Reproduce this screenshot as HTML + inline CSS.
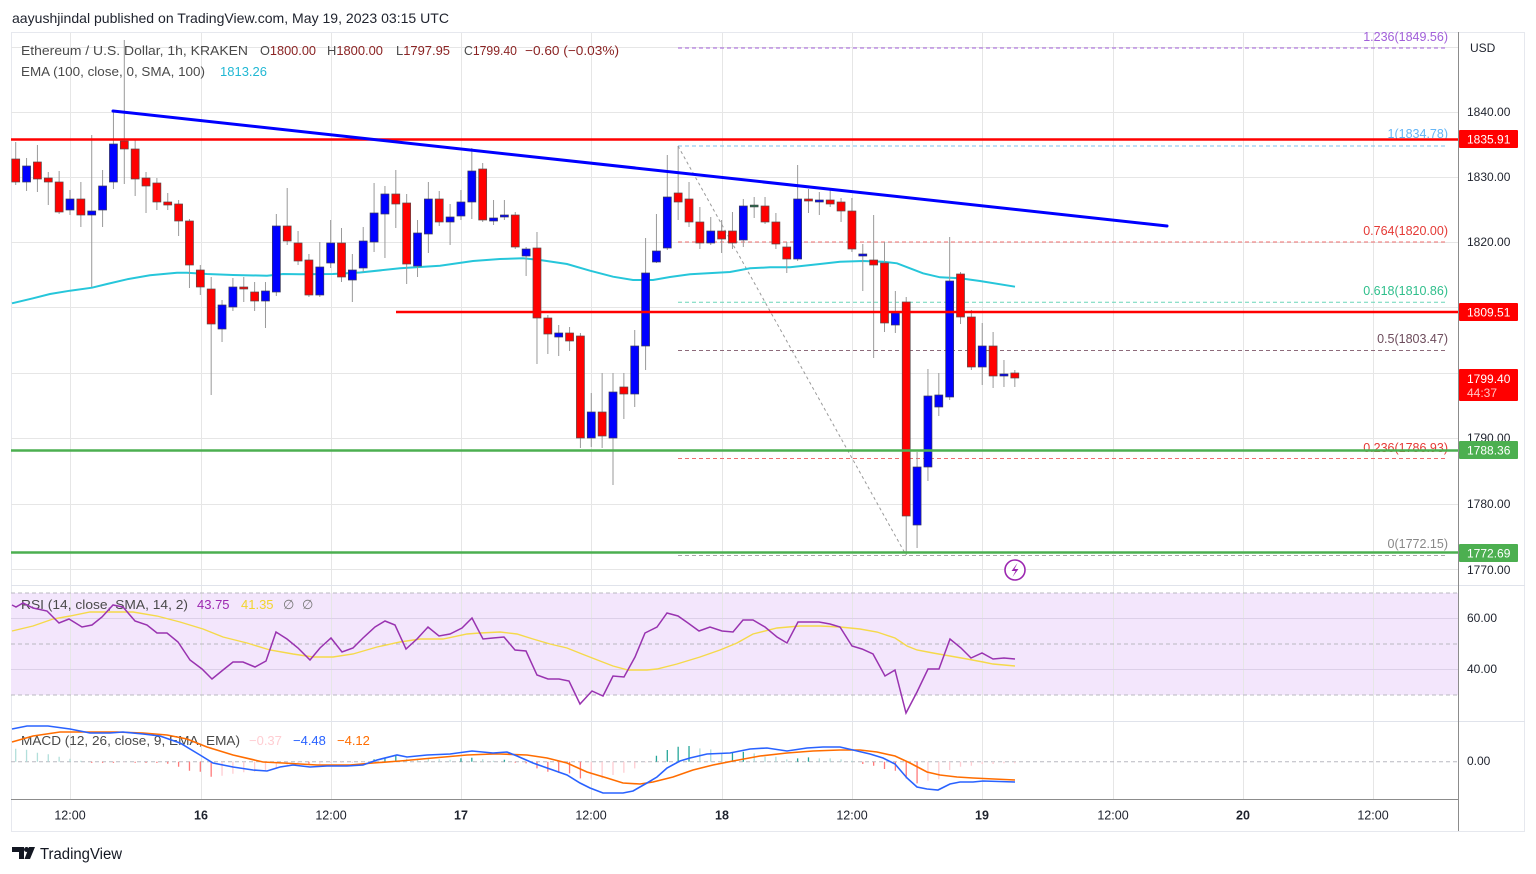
<!DOCTYPE html>
<html><head><meta charset="utf-8"><style>
html,body{margin:0;padding:0;background:#fff;}
svg{display:block;font-family:"Liberation Sans",sans-serif;}
</style></head><body>
<svg width="1536" height="874" viewBox="0 0 1536 874" xmlns="http://www.w3.org/2000/svg">
<rect width="1536" height="874" fill="#fff"/>
<text x="12" y="23" font-size="14" fill="#1e222d" textLength="437" lengthAdjust="spacingAndGlyphs">aayushjindal published on TradingView.com, May 19, 2023 03:15 UTC</text>
<!-- frame -->
<rect x="11.5" y="32.5" width="1513" height="799" fill="none" stroke="#e6e8ee"/>
<!-- RSI band -->
<rect x="11" y="593" width="1447" height="102" fill="#f3e6fc"/>
<!-- grid -->
<g stroke="#e6e6e6" stroke-width="1">
<path d="M70.5 33V799M201.5 33V799M331.5 33V799M461.5 33V799M591.5 33V799M722.5 33V799M852.5 33V799M982.5 33V799M1113.5 33V799M1243.5 33V799M1373.5 33V799"/>
<path d="M11 47.5H1458M11 112.5H1458M11 177.5H1458M11 242.5H1458M11 307.5H1458M11 373.5H1458M11 438.5H1458M11 504.5H1458M11 569.5H1458"/>
</g>
<path d="M11 618.5H1458M11 669.5H1458" stroke="#dcd0e8"/>
<path d="M11 585.5H1525M11 721.5H1525" stroke="#e0e3eb"/>
<g stroke="#b8b8c0" stroke-dasharray="4 3" fill="none">
<path d="M11 593H1458M11 644H1458M11 695H1458"/>
<path d="M11 761.7H1458"/>
</g>
<!-- axes -->
<path d="M1458.5 32V831M11 799.5H1458" stroke="#8c8c8c" stroke-width="1"/>
<!-- fib lines -->
<g stroke-dasharray="4 3" stroke-width="1" fill="none">
<path d="M678 48H1448" stroke="#a15fd9"/>
<path d="M678 146H1448" stroke="#7cc1ec"/>
<path d="M678 242H1448" stroke="#ef6e6e"/>
<path d="M678 302.3H1448" stroke="#6ad5b8"/>
<path d="M678 350.5H1448" stroke="#8d6a7a"/>
<path d="M678 458.5H1448" stroke="#ef6e6e"/>
<path d="M678 555.5H1448" stroke="#a8a8a8"/>
</g>
<path d="M678 146L906 555" stroke="#9a9a9a" stroke-dasharray="3 3" fill="none"/>
<g font-size="12.5" text-anchor="end">
<text x="1448" y="41" fill="#a15fd9">1.236(1849.56)</text>
<text x="1448" y="138" fill="#64b5f6">1(1834.78)</text>
<text x="1448" y="235" fill="#e53935">0.764(1820.00)</text>
<text x="1448" y="295" fill="#2fbf8c">0.618(1810.86)</text>
<text x="1448" y="343" fill="#6d4c5c">0.5(1803.47)</text>
<text x="1448" y="452" fill="#e53935">0.236(1786.93)</text>
<text x="1448" y="548" fill="#888">0(1772.15)</text>
</g>
<!-- EMA -->
<path d="M12 303.3L33 298.3L50 294L70 290.7L92 287.7L107 284L127 279.3L150 275.3L177 272.7L187 272.7L207 274L233 275L267 275.7L283 274L300 274.3L333 274L360 272.5L400 268.3L440 265.7L473 261L500 259L523 258.3L540 260L567 264L590 270.7L613 276.7L633 280L653 280L670 277L690 274.3L730 272L750 268.3L770 267.3L790 267.3L820 264L840 261.7L863 261L883 261.7L897 263.3L910 268.3L923 273.3L940 277.3L960 278.3L980 281L1015 286.7" fill="none" stroke="#26c6da" stroke-width="2"/>
<!-- wicks -->
<path stroke="#9a9a9a" stroke-width="1" fill="none" d="M15.7 142V185M26.56 158V191M37.42 145V192M48.28 172V205M59.14 171V214M70 190V215M80.86 182V227M91.72 135V287M102.58 170V227M113.44 112V189M124.3 40V184M135.16 140V196M146.02 172V213M156.88 178V210M167.74 193V210M178.6 200V236M189.46 219V288M200.32 265V295M211.18 277V395M222.04 300V342M232.9 278V311M243.76 277V302M254.62 282V311M265.48 282V328M276.34 214V296M287.2 188V245M298.06 231V265M308.92 254V297M319.78 242V297M330.64 220V268M341.5 228V282M352.36 254V302M363.22 227V272M374.08 183V252M384.94 186V258M395.8 170V228M406.66 194V284M417.52 220V277M428.38 182V253M439.24 191V226M450.1 204V245M460.96 190V220M471.82 148V219M482.68 163V222M493.54 200V225M504.4 200V220M515.26 212V249M526.12 247V276M536.98 232V364M547.84 315V354M558.7 325V356M569.56 327V351M580.42 333V448M591.28 393V447M602.14 373V448M613 373V485M623.86 373V419M634.72 330V407M645.58 238V370M656.44 214V263M667.3 155V250M678.16 146V220M689.02 182V227M699.88 207V249M710.74 217V245M721.6 220V253M732.46 212V249M743.32 199V247M754.18 197V218M765.04 197V224M775.9 213V249M786.76 242V273M797.62 165V261M808.48 189V213M819.34 192V215M830.2 190V207M841.06 198V222M851.92 198V252M862.78 244V291M873.64 215V358M884.5 242V332M895.36 291V333M906.22 297V555M917.08 452V548M927.94 369V481M938.8 373V416M949.66 237V400M960.52 272V324M971.38 310V370M982.24 323V385M993.1 332V388M1003.96 360V387M1014.82 370V387"/>
<!-- red bodies -->
<g fill="#ff0000" stroke="#5a4a4a" stroke-width="0.7">
<rect x="11.7" y="159" width="8" height="23"/>
<rect x="33.42" y="162" width="8" height="17"/>
<rect x="44.28" y="178" width="8" height="4"/>
<rect x="55.14" y="182" width="8" height="30"/>
<rect x="76.86" y="199" width="8" height="16"/>
<rect x="120.3" y="141" width="8" height="8"/>
<rect x="131.16" y="149" width="8" height="30"/>
<rect x="142.02" y="178" width="8" height="8"/>
<rect x="152.88" y="183" width="8" height="19"/>
<rect x="163.74" y="202" width="8" height="3"/>
<rect x="174.6" y="204" width="8" height="17"/>
<rect x="185.46" y="221" width="8" height="44"/>
<rect x="196.32" y="270" width="8" height="17"/>
<rect x="207.18" y="289" width="8" height="35"/>
<rect x="239.76" y="287" width="8" height="2"/>
<rect x="250.62" y="292" width="8" height="9"/>
<rect x="283.2" y="226" width="8" height="15"/>
<rect x="294.06" y="243" width="8" height="18"/>
<rect x="304.92" y="260" width="8" height="35"/>
<rect x="337.5" y="243" width="8" height="34"/>
<rect x="391.8" y="194" width="8" height="10"/>
<rect x="402.66" y="203" width="8" height="61"/>
<rect x="435.24" y="199" width="8" height="23"/>
<rect x="478.68" y="169" width="8" height="51"/>
<rect x="511.26" y="215" width="8" height="32"/>
<rect x="532.98" y="248" width="8" height="70"/>
<rect x="543.84" y="318" width="8" height="16"/>
<rect x="565.56" y="333" width="8" height="8"/>
<rect x="576.42" y="336" width="8" height="102"/>
<rect x="598.14" y="412" width="8" height="24"/>
<rect x="619.86" y="387" width="8" height="7"/>
<rect x="674.16" y="193" width="8" height="9"/>
<rect x="685.02" y="199" width="8" height="23"/>
<rect x="695.88" y="222" width="8" height="21"/>
<rect x="717.6" y="231" width="8" height="8"/>
<rect x="728.46" y="231" width="8" height="12"/>
<rect x="761.04" y="206" width="8" height="16"/>
<rect x="771.9" y="222" width="8" height="22"/>
<rect x="782.76" y="247" width="8" height="12"/>
<rect x="804.48" y="199" width="8" height="2"/>
<rect x="826.2" y="200" width="8" height="4"/>
<rect x="837.06" y="202" width="8" height="9"/>
<rect x="847.92" y="211" width="8" height="38"/>
<rect x="869.64" y="260" width="8" height="5"/>
<rect x="880.5" y="263" width="8" height="60"/>
<rect x="902.22" y="302" width="8" height="214"/>
<rect x="956.52" y="274" width="8" height="43"/>
<rect x="967.38" y="317" width="8" height="50"/>
<rect x="989.1" y="346" width="8" height="30"/>
<rect x="1010.82" y="373" width="8" height="5"/>
</g>
<!-- blue bodies -->
<g fill="#0000ff" stroke="#3a3a5a" stroke-width="0.7">
<rect x="22.56" y="166" width="8" height="16"/>
<rect x="66" y="199" width="8" height="11"/>
<rect x="87.72" y="211" width="8" height="4"/>
<rect x="98.58" y="186" width="8" height="24"/>
<rect x="109.44" y="144" width="8" height="38"/>
<rect x="218.04" y="305" width="8" height="24"/>
<rect x="228.9" y="287" width="8" height="20"/>
<rect x="261.48" y="291" width="8" height="10"/>
<rect x="272.34" y="226" width="8" height="66"/>
<rect x="315.78" y="267" width="8" height="28"/>
<rect x="326.64" y="243" width="8" height="20"/>
<rect x="348.36" y="270" width="8" height="10"/>
<rect x="359.22" y="241" width="8" height="27"/>
<rect x="370.08" y="213" width="8" height="29"/>
<rect x="380.94" y="194" width="8" height="20"/>
<rect x="413.52" y="233" width="8" height="33"/>
<rect x="424.38" y="199" width="8" height="35"/>
<rect x="446.1" y="217" width="8" height="5"/>
<rect x="456.96" y="202" width="8" height="14"/>
<rect x="467.82" y="171" width="8" height="31"/>
<rect x="489.54" y="218" width="8" height="3"/>
<rect x="500.4" y="215" width="8" height="2"/>
<rect x="522.12" y="249" width="8" height="7"/>
<rect x="554.7" y="333" width="8" height="4"/>
<rect x="587.28" y="412" width="8" height="26"/>
<rect x="609" y="392" width="8" height="46"/>
<rect x="630.72" y="346" width="8" height="48"/>
<rect x="641.58" y="273" width="8" height="73"/>
<rect x="652.44" y="251" width="8" height="11"/>
<rect x="663.3" y="197" width="8" height="51"/>
<rect x="706.74" y="231" width="8" height="12"/>
<rect x="739.32" y="206" width="8" height="34"/>
<rect x="793.62" y="199" width="8" height="60"/>
<rect x="815.34" y="200" width="8" height="2"/>
<rect x="858.78" y="254" width="8" height="2"/>
<rect x="891.36" y="313" width="8" height="12"/>
<rect x="913.08" y="467" width="8" height="58"/>
<rect x="923.94" y="396" width="8" height="71"/>
<rect x="934.8" y="395" width="8" height="12"/>
<rect x="945.66" y="281" width="8" height="116"/>
<rect x="978.24" y="346" width="8" height="21"/>
<rect x="999.96" y="374" width="8" height="2"/>
</g>
<rect x="750.18" y="205" width="8" height="2" fill="#2e6b4f" stroke="#3a3a3a" stroke-width="0.5"/>
<!-- horizontal levels -->
<path d="M11 139.5H1458" stroke="#ff0000" stroke-width="2.5"/>
<path d="M396 312H1458" stroke="#ff0000" stroke-width="2.5"/>
<path d="M11 450.5H1458" stroke="#4caf50" stroke-width="2.5"/>
<path d="M11 552.5H1458" stroke="#4caf50" stroke-width="2.5"/>
<!-- trendline -->
<path d="M113 111L1167 226" stroke="#0000ff" stroke-width="3" stroke-linecap="round"/>
<!-- lightning -->
<circle cx="1015" cy="570" r="10" fill="#fff" stroke="#9c27b0" stroke-width="1.6"/>
<path d="M1017.5 563L1011.5 571H1015.5L1012.5 577L1018.5 569H1014.5Z" fill="#9c27b0"/>
<!-- legends -->
<g font-size="13">
<text x="21" y="55" fill="#4a4a4a" textLength="227" lengthAdjust="spacingAndGlyphs">Ethereum / U.S. Dollar, 1h, KRAKEN</text>
<text x="260" y="55" fill="#4a4a4a" textLength="56" lengthAdjust="spacingAndGlyphs">O<tspan fill="#8b2323">1800.00</tspan></text>
<text x="327" y="55" fill="#4a4a4a" textLength="56" lengthAdjust="spacingAndGlyphs">H<tspan fill="#8b2323">1800.00</tspan></text>
<text x="396" y="55" fill="#4a4a4a" textLength="54" lengthAdjust="spacingAndGlyphs">L<tspan fill="#8b2323">1797.95</tspan></text>
<text x="464" y="55" fill="#4a4a4a" textLength="53" lengthAdjust="spacingAndGlyphs">C<tspan fill="#8b2323">1799.40</tspan></text>
<text x="525" y="55" fill="#8b2323" textLength="94" lengthAdjust="spacingAndGlyphs">−0.60 (−0.03%)</text>
<text x="21" y="76" fill="#4a4a4a" textLength="184" lengthAdjust="spacingAndGlyphs">EMA (100, close, 0, SMA, 100)</text>
<text x="220" y="76" fill="#22b8d4">1813.26</text>
<text x="21" y="609" fill="#4a4a4a" textLength="167" lengthAdjust="spacingAndGlyphs">RSI (14, close, SMA, 14, 2)</text>
<text x="197" y="609" fill="#9c27b0">43.75</text>
<text x="241" y="609" fill="#f2d52e">41.35</text>
<text x="283" y="609" fill="#777">∅</text>
<text x="302" y="609" fill="#777">∅</text>
<text x="21" y="745" fill="#4a4a4a" textLength="219" lengthAdjust="spacingAndGlyphs">MACD (12, 26, close, 9, EMA, EMA)</text>
<text x="249" y="745" fill="#ffcdd2">−0.37</text>
<text x="293" y="745" fill="#2962ff">−4.48</text>
<text x="337" y="745" fill="#ff6d00">−4.12</text>
</g>
<!-- RSI lines -->
<path fill="none" stroke="#f5d94a" stroke-width="1.4" d="M12 631L33 626L53 619L70 616L90 612L113 612L133 612L157 616L180 622L203 629L223 637L247 643L270 650L293 654L313 657L333 657L353 654L377 647L400 642L420 639L443 639L467 634L480 633L500 632L517 634L533 639L550 644L567 648L582 654L600 661L613 666L628 670L647 670L657 669L677 664L700 657L720 650L737 643L753 634L777 628L800 626L820 626L840 627L860 629L877 632L895 638L907 646L917 650L933 653L950 656L967 659L983 662L993 664L1015 666"/>
<path fill="none" stroke="#9933b0" stroke-width="1.5" d="M12 605L16 607L23 603L33 608L47 611L59 623L69 619L82 627L92 625L102 617L113 605L123 607L135 621L147 625L157 633L167 633L178 642L190 660L202 669L212 679L223 670L233 662L243 662L255 667L266 661L276 632L287 639L298 648L310 660L320 648L331 638L342 652L353 648L363 638L375 627L385 621L395 625L406 649L417 639L428 627L439 636L450 634L462 628L472 618L483 639L493 638L504 637L515 650L526 651L537 675L548 679L559 679L569 681L580 704L592 691L603 696L613 676L624 677L635 657L645 633L657 627L667 613L678 616L688 623L699 631L710 627L722 631L733 632L743 620L753 620L765 627L777 637L787 643L798 622L808 622L819 622L830 624L840 627L852 646L862 649L873 654L885 676L895 670L906 713L917 692L928 669L939 669L950 639L961 648L971 658L982 653L993 659L1004 658L1015 659"/>
<!-- MACD histogram -->
<g stroke-width="1.3" fill="none">
<path stroke="#b2dfdb" d="M15.7 761.7V748.7M26.56 761.7V749.7M37.42 761.7V752.7M48.28 761.7V754.2M59.14 761.7V756.7M70 761.7V758.7M80.86 761.7V760.7M406.66 761.7V758.7M417.52 761.7V758.7M428.38 761.7V758.7M439.24 761.7V759.2M450.1 761.7V759.7M482.68 761.7V759.2M493.54 761.7V760.7M699.88 761.7V748.4M710.74 761.7V749.4M721.6 761.7V753.4M754.18 761.7V753.4M765.04 761.7V756.7M775.9 761.7V756.7M786.76 761.7V759.4M819.34 761.7V758.4M830.2 761.7V758.4M841.06 761.7V759.4M851.92 761.7V760.7"/>
<path stroke="#26a69a" d="M374.08 761.7V759.2M384.94 761.7V757.7M395.8 761.7V755.7M460.96 761.7V758.2M471.82 761.7V757.7M504.4 761.7V759.7M656.44 761.7V755.7M667.3 761.7V750M678.16 761.7V746.7M689.02 761.7V746M732.46 761.7V752.7M743.32 761.7V751.7M797.62 761.7V758.4M808.48 761.7V757.4"/>
<path stroke="#ff7a7a" d="M91.72 761.7V762.9M102.58 761.7V762.9M113.44 761.7V762.9M135.16 761.7V762.9M146.02 761.7V762.9M156.88 761.7V763M167.74 761.7V763.7M178.6 761.7V766.7M189.46 761.7V770.7M200.32 761.7V771.7M211.18 761.7V776.7M308.92 761.7V763.7M515.26 761.7V762.7M526.12 761.7V763.4M536.98 761.7V768.4M547.84 761.7V771.7M558.7 761.7V772.7M569.56 761.7V773.4M580.42 761.7V778.4M862.78 761.7V764M873.64 761.7V765.7M884.5 761.7V769M895.36 761.7V770.7M906.22 761.7V778.4M917.08 761.7V783.4"/>
<path stroke="#ffcdd2" d="M124.3 761.7V762.4M222.04 761.7V775.7M232.9 761.7V773.7M243.76 761.7V772.2M254.62 761.7V771.7M265.48 761.7V771.2M276.34 761.7V767.7M287.2 761.7V764.7M298.06 761.7V763.2M319.78 761.7V763.7M330.64 761.7V762.7M341.5 761.7V762.7M352.36 761.7V762.7M363.22 761.7V762.4M591.28 761.7V778.4M602.14 761.7V778.4M613 761.7V775M623.86 761.7V772.7M634.72 761.7V768.4M645.58 761.7V762.4M927.94 761.7V780.7M938.8 761.7V779.3M949.66 761.7V770M960.52 761.7V766.7M971.38 761.7V765.7M982.24 761.7V764M993.1 761.7V764M1003.96 761.7V763.3M1014.82 761.7V763.3"/>
</g>
<!-- MACD lines -->
<path fill="none" stroke="#ff6d00" stroke-width="1.6" d="M12 742L33 736L60 732L87 732L117 732L143 733L167 735L187 739L207 747L233 755L263 762L283 763L317 765L350 765L373 763L400 761L433 758L467 755L493 754L500 754L527 755L547 758L567 763L587 772L607 778L623 783L640 784L653 782L673 777L693 770L713 765L733 761L760 756L787 753L813 751L840 750L860 750L877 752L895 756L910 763L927 772L940 775L957 777L973 778L1015 780"/>
<path fill="none" stroke="#2962ff" stroke-width="1.6" d="M12 729L27 726L48 726L70 729L90 733L110 733L123 732L143 734L160 736L180 743L200 755L213 763L233 767L253 770L267 771L280 767L293 765L310 767L327 766L347 766L363 765L377 760L397 755L407 757L427 755L450 754L472 751L493 753L507 752L517 756L533 763L550 769L567 775L580 783L590 788L603 793L623 793L633 791L647 783L657 777L667 768L680 761L690 758L707 754L730 753L750 749L767 748L787 751L807 748L823 747L840 747L853 750L870 754L883 758L895 764L907 778L917 787L927 789L938 790L950 784L960 782L973 782L983 781L1015 782"/>
<!-- price axis -->
<g font-size="12" fill="#1e222d">
<text x="1470" y="52">USD</text>
<text x="1467" y="116">1840.00</text>
<text x="1467" y="181">1830.00</text>
<text x="1467" y="246">1820.00</text>
<text x="1467" y="442">1790.00</text>
<text x="1467" y="508">1780.00</text>
<text x="1467" y="574">1770.00</text>
<text x="1467" y="622">60.00</text>
<text x="1467" y="673">40.00</text>
<text x="1467" y="765">0.00</text>
</g>
<g font-size="12" fill="#fff">
<rect x="1459" y="130" width="59" height="18" rx="1" fill="#ff0000"/>
<text x="1467" y="143.5">1835.91</text>
<rect x="1459" y="303" width="59" height="18" rx="1" fill="#ff0000"/>
<text x="1467" y="316.5">1809.51</text>
<rect x="1459" y="369" width="59" height="32" rx="1" fill="#ff0000"/>
<text x="1467" y="383">1799.40</text>
<text x="1467" y="397" fill="#ffc4c4">44:37</text>
<rect x="1459" y="441" width="59" height="18" rx="1" fill="#4caf50"/>
<text x="1467" y="454.5">1788.36</text>
<rect x="1459" y="544" width="59" height="18" rx="1" fill="#4caf50"/>
<text x="1467" y="557.5">1772.69</text>
</g>
<!-- time axis -->
<g font-size="12.5" fill="#1e222d" text-anchor="middle">
<text x="70" y="819.5">12:00</text>
<text x="201" y="819.5" font-weight="bold">16</text>
<text x="331" y="819.5">12:00</text>
<text x="461" y="819.5" font-weight="bold">17</text>
<text x="591" y="819.5">12:00</text>
<text x="722" y="819.5" font-weight="bold">18</text>
<text x="852" y="819.5">12:00</text>
<text x="982" y="819.5" font-weight="bold">19</text>
<text x="1113" y="819.5">12:00</text>
<text x="1243" y="819.5" font-weight="bold">20</text>
<text x="1373" y="819.5">12:00</text>
</g>
<!-- logo -->
<path d="M12 847H24V859H19V852H12Z" fill="#131722"/>
<circle cx="26.5" cy="849.5" r="2.5" fill="#131722"/>
<path d="M29 847H35L30 859H24.5Z" fill="#131722"/>
<text x="40" y="859" font-size="15.5" fill="#131722" textLength="82" lengthAdjust="spacingAndGlyphs">TradingView</text>
</svg>
</body></html>
